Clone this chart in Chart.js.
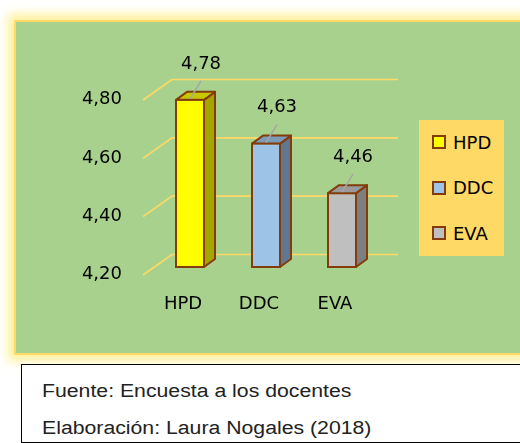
<!DOCTYPE html>
<html>
<head>
<meta charset="utf-8">
<script src="https://cdn.jsdelivr.net/npm/chart.js@4.4.1/dist/chart.umd.min.js"></script>
<style>
  html, body { margin: 0; padding: 0; background: #fff; overflow: hidden; }
  body { width: 520px; height: 443px; position: relative; font-family: "DejaVu Sans", sans-serif; }
  #panel {
    position: absolute; left: 14px; top: 20px; width: 540px; height: 331px;
    background: #a9d18e; border: 2px solid #ffd966;
    box-shadow: 0 0 10px 6px rgba(255, 235, 120, 0.75);
  }
  #chart { position: absolute; left: 0; top: 0; }
  #legend {
    position: absolute; left: 419px; top: 120px; width: 85px; height: 136px;
    background: #ffd966;
  }
  .item { position: absolute; left: 13px; height: 20px; display: flex; align-items: center; font-size: 18px; color: #000; }
  .swatch { width: 10px; height: 10px; border: 2px solid #843c0c; margin-right: 7px; }
  #footer {
    position: absolute; left: 21px; top: 364px; width: 520px; height: 77px;
    border: 1px solid #000; background: #fff; overflow: hidden;
    font-family: "Liberation Sans", Arial, sans-serif; font-size: 18px; color: #222;
  }
  #footer div { position: absolute; left: 20px; white-space: nowrap; transform: scaleX(1.18); transform-origin: left center; }
</style>
</head>
<body>
<div id="panel"></div>
<canvas id="chart" width="520" height="360"></canvas>
<div id="legend"></div>
<div id="footer">
  <div style="top:16px">Fuente: Encuesta a los docentes</div>
  <div style="top:53px">Elaboración: Laura Nogales (2018)</div>
</div>
<script>
// data
const categories = ['HPD', 'DDC', 'EVA'];
const values = [4.78, 4.63, 4.46];
const yTicks = [4.20, 4.40, 4.60, 4.80];

const frontColors = ['#ffff00', '#9dc3e6', '#bfbfbf'];
const sideColors = ['#a5a500', '#5f7791', '#7f7f7f'];
const topColors = ['#c8c800', '#7b9bb9', '#9a9a9a'];
const outline = '#843c0c';
const gridColor = '#ffd966';
const textFont = '18px "DejaVu Sans"';
const fmt = v => v.toFixed(2).replace('.', ',');

// legend (html)
const legend = document.getElementById('legend');
categories.forEach((c, i) => {
  const el = document.createElement('div');
  el.className = 'item';
  el.style.top = (12 + i * 45.5) + 'px';
  el.innerHTML = '<span class="swatch" style="background:' + frontColors[i] + '"></span>' + c;
  legend.appendChild(el);
});

// 3D look: floor/back-wall gridlines, bar top & side faces, labels
const depth3d = {
  id: 'depth3d',
  beforeDatasetsDraw(chart) {
    const ctx = chart.ctx, y = chart.scales.y, area = chart.chartArea;
    ctx.save();
    ctx.strokeStyle = gridColor;
    ctx.lineWidth = 1.6;
    yTicks.forEach(t => {
      const py = y.getPixelForValue(t);
      ctx.beginPath();
      ctx.moveTo(area.left - 9, py + 7);
      ctx.lineTo(area.left + 20, py - 13.5);
      ctx.lineTo(area.right + 18, py - 13.5);
      ctx.stroke();
    });
    // y tick labels on the front plane
    ctx.fillStyle = '#000';
    ctx.font = textFont;
    ctx.textAlign = 'right';
    ctx.textBaseline = 'middle';
    yTicks.forEach(t => {
      ctx.fillText(fmt(t), 122, y.getPixelForValue(t) + 6.5);
    });
    ctx.restore();
  },
  afterDatasetsDraw(chart) {
    const ctx = chart.ctx;
    const bars = chart.getDatasetMeta(0).data;
    const dx = 11, dy = -8;
    ctx.save();
    ctx.lineWidth = 2;
    ctx.strokeStyle = outline;
    ctx.lineJoin = 'round';
    bars.forEach((b, i) => {
      const L = b.x - b.width / 2, R = b.x + b.width / 2, T = b.y, B = b.base;
      // side face
      ctx.beginPath();
      ctx.moveTo(R - 1, T + 1);
      ctx.lineTo(R - 1 + dx, T + 1 + dy);
      ctx.lineTo(R - 1 + dx, B - 1 + dy);
      ctx.lineTo(R - 1, B - 1);
      ctx.closePath();
      ctx.fillStyle = sideColors[i];
      ctx.fill();
      ctx.stroke();
      // top face
      ctx.beginPath();
      ctx.moveTo(L + 1, T + 1);
      ctx.lineTo(L + 1 + dx, T + 1 + dy);
      ctx.lineTo(R - 1 + dx, T + 1 + dy);
      ctx.lineTo(R - 1, T + 1);
      ctx.closePath();
      ctx.fillStyle = topColors[i];
      ctx.fill();
      ctx.stroke();
    });
    // value labels with leader lines
    ctx.font = textFont;
    ctx.textAlign = 'center';
    ctx.textBaseline = 'middle';
    bars.forEach((b, i) => {
      const lx = b.x + 11, ly = b.y - 35;
      ctx.strokeStyle = '#a6a6a6';
      ctx.lineWidth = 1.5;
      ctx.beginPath();
      ctx.moveTo(lx, ly + 17);
      ctx.lineTo(b.x, b.y);
      ctx.stroke();
      ctx.fillStyle = '#000';
      ctx.fillText(fmt(values[i]), lx, ly);
    });
    // category labels on the front plane
    bars.forEach((b, i) => {
      ctx.fillText(categories[i], b.x - 7, 304);
    });
    ctx.restore();
  }
};

new Chart(document.getElementById('chart'), {
  type: 'bar',
  data: {
    labels: categories,
    datasets: [{
      data: values,
      base: yTicks[0],
      backgroundColor: frontColors,
      borderColor: outline,
      borderWidth: 2,
      borderSkipped: false,
      barPercentage: 30 / 76,
      categoryPercentage: 1
    }]
  },
  options: {
    responsive: false,
    animation: false,
    devicePixelRatio: 1,
    layout: { padding: { left: 152, right: 140, top: 93, bottom: 92 } },
    plugins: { legend: { display: false }, tooltip: { enabled: false } },
    scales: {
      x: { display: false },
      y: { display: false, min: 4.2, max: 4.8 }
    }
  },
  plugins: [depth3d]
});
</script>
</body>
</html>
